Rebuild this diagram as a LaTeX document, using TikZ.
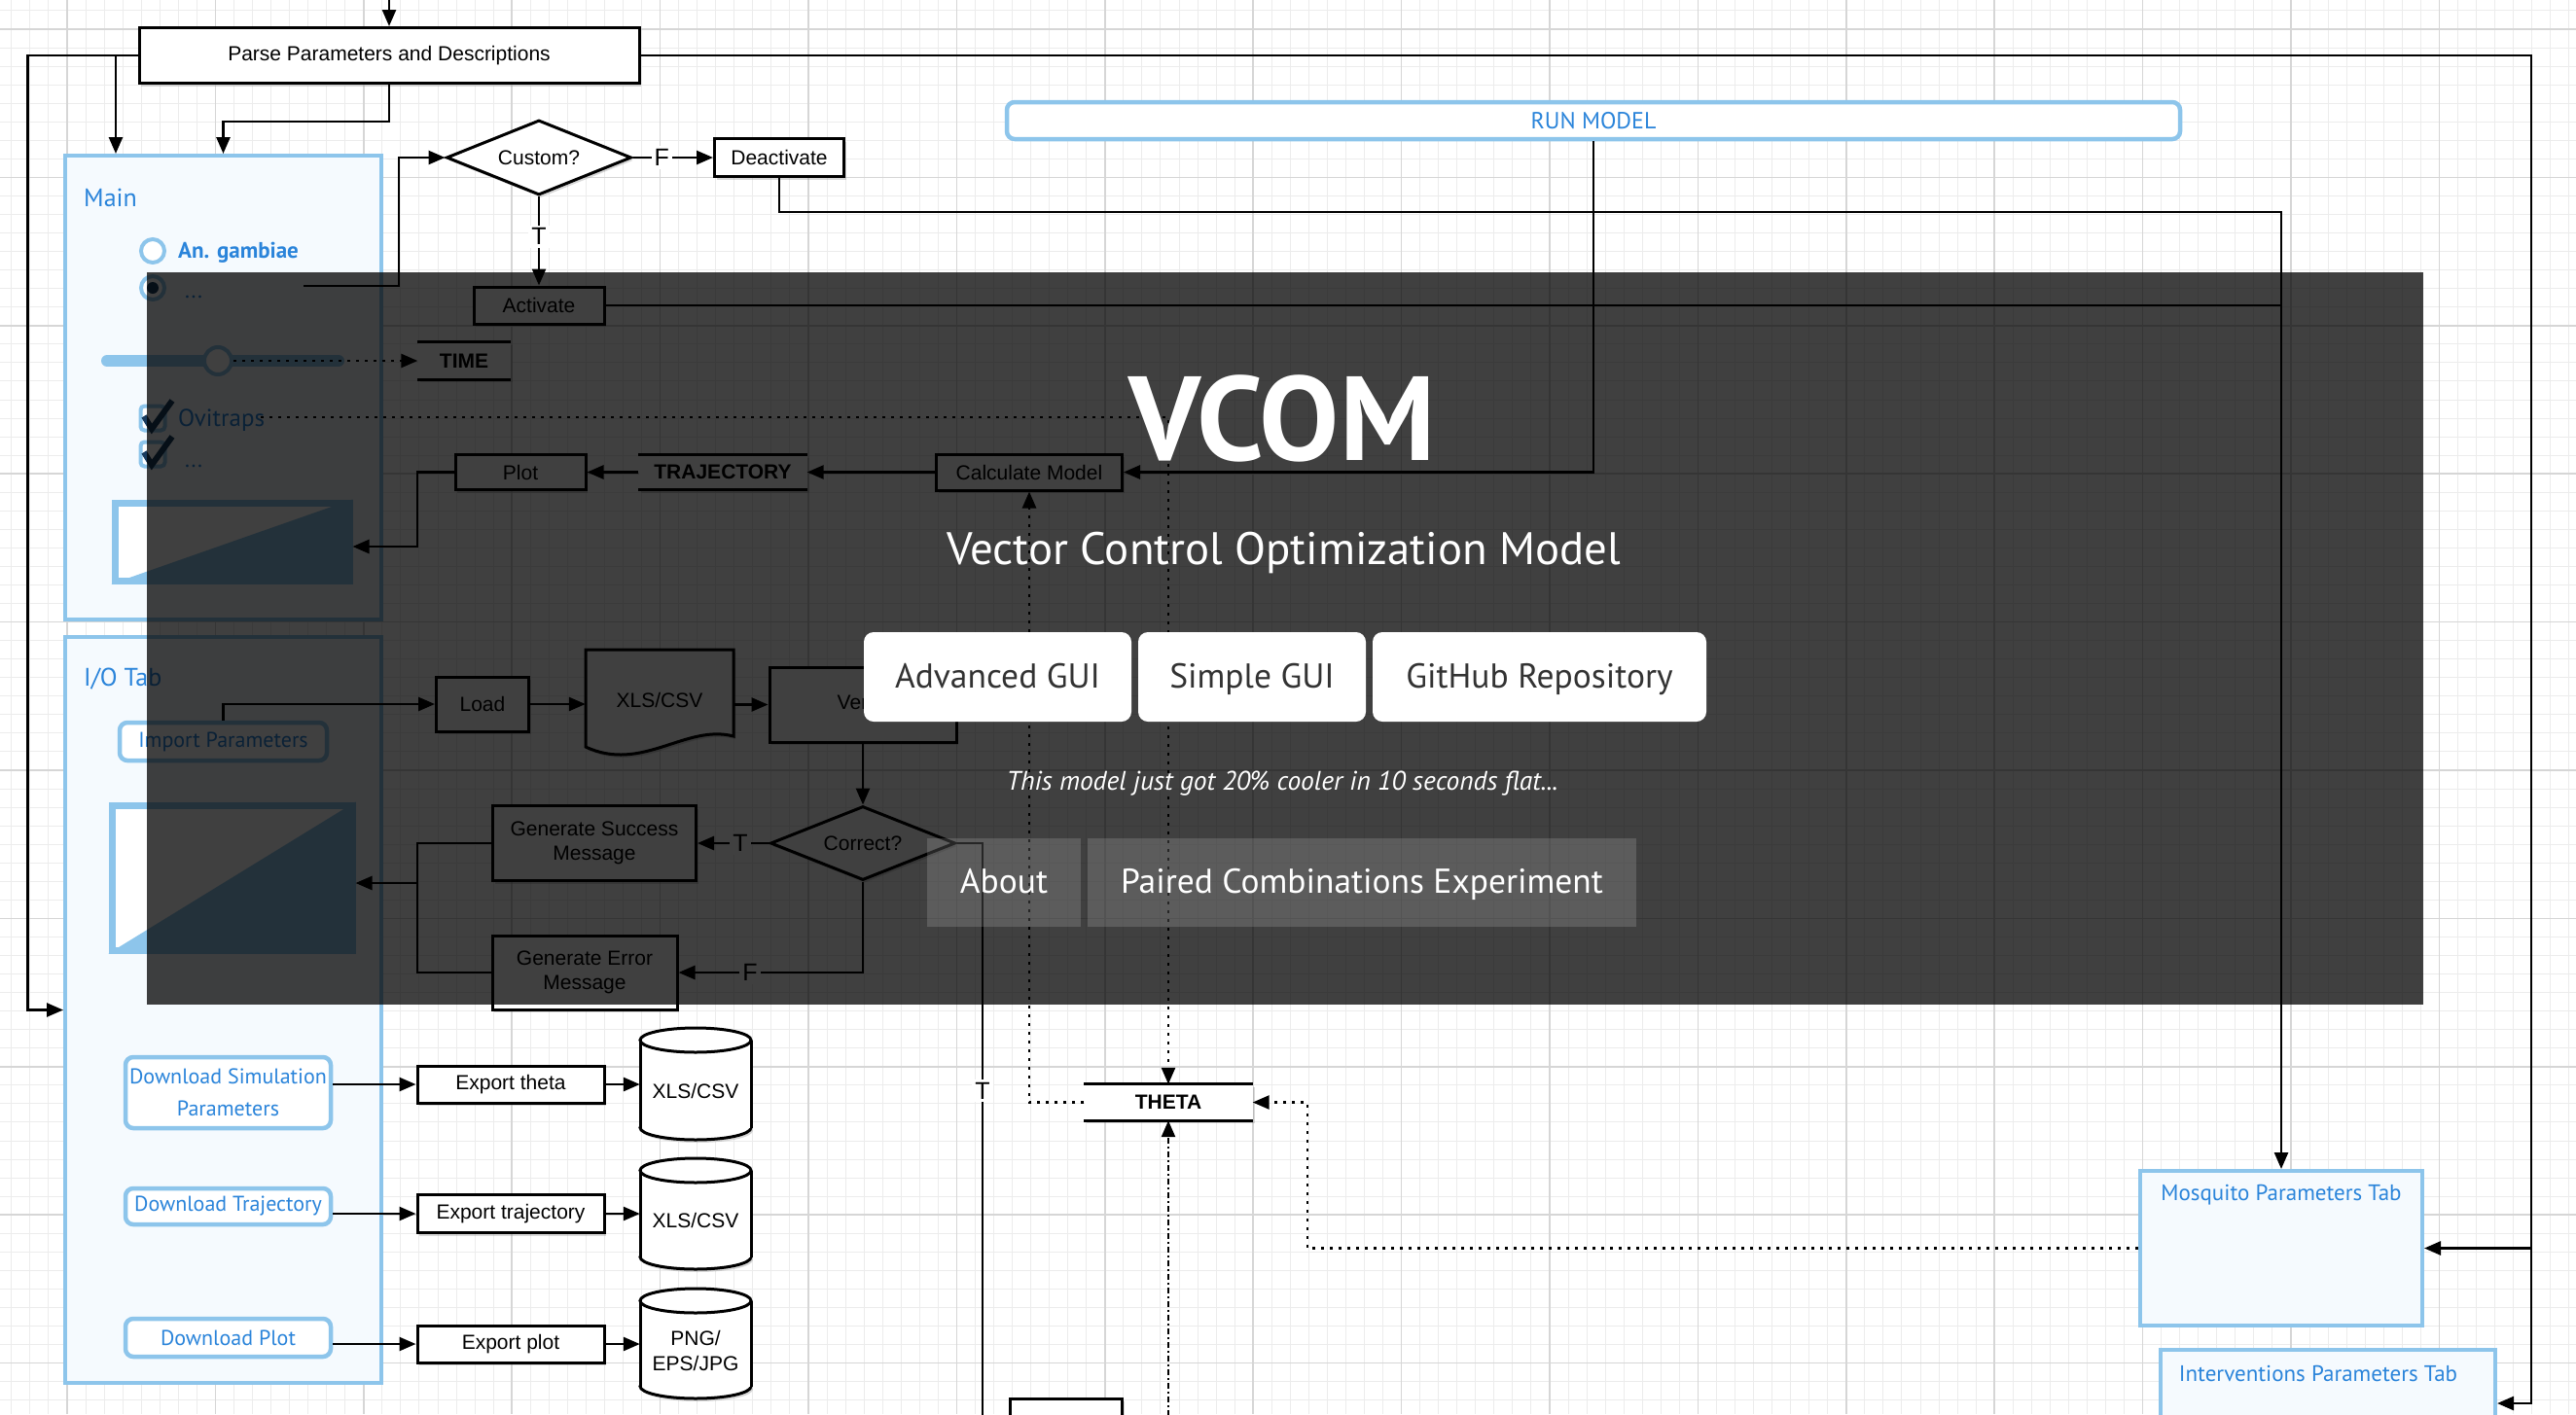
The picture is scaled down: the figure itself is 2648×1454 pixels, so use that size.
\documentclass[tikz,border=0pt]{standalone}
\usepackage{fontspec}
\setmainfont{Liberation Sans}
\newfontfamily\uifont{PT Sans}
\usetikzlibrary{positioning,shapes.geometric,arrows.meta,shadows}

\definecolor{gridmajor}{RGB}{214,214,214}
\definecolor{gridminor}{RGB}{236,236,236}
\definecolor{bluebord}{RGB}{141,197,235}
\definecolor{bluefill}{RGB}{245,250,254}
\definecolor{bluetext}{RGB}{42,132,218}
\definecolor{darkcheck}{RGB}{25,60,95}
\definecolor{btntext}{RGB}{51,51,51}

\newcommand\boxfont{\fontsize{21}{25}\selectfont}
\newcommand\tabfont{\uifont\fontsize{23}{27}\selectfont}

\tikzset{
  shade box/.style={drop shadow={shadow xshift=2pt,shadow yshift=-3pt,opacity=0.3}},
  box/.style={draw,fill=white,line width=3pt,inner sep=2pt,align=center,font=\boxfont,shade box},
  store/.style={fill=white,inner sep=2pt,font=\boxfont\bfseries,shade box},
  decision/.style={diamond,aspect=2.5,draw,fill=white,line width=3pt,inner sep=0pt,font=\boxfont,shade box},
  flow/.style={line width=2.6pt,-{Triangle[length=17pt,width=14pt]}},
  wire/.style={line width=2.6pt},
  dotflow/.style={flow,dash pattern=on 3pt off 6pt},
  dashflow/.style={flow,dash pattern=on 6pt off 3pt on 2pt off 3pt},
  lbl/.style={fill=white,inner sep=3pt,font=\fontsize{25}{29}\selectfont},
  panel/.style={draw=bluebord,fill=bluefill,line width=4pt,inner sep=0pt},
  uibtn/.style={draw=bluebord,fill=white,line width=4.5pt,rounded corners=8pt,
    text=bluetext,font=\uifont\fontsize{22}{33}\selectfont,align=center,inner sep=0pt},
  tabtitle/.style={text=bluetext,font=\tabfont,inner sep=0pt},
  gbtn/.style={fill=white,rounded corners=10pt,text=btntext,font=\uifont\fontsize{35.5}{40}\selectfont,
    text height=22pt,text depth=0pt,inner sep=0pt,minimum height=92pt},
  navbtn/.style={fill=white,fill opacity=0.15,text opacity=1,text=white,font=\uifont\fontsize{35.5}{40}\selectfont,
    text height=21pt,text depth=0pt,inner sep=0pt,minimum height=91pt}
}

\begin{document}
\begin{tikzpicture}[x=1pt,y=-1pt]
\useasboundingbox (0,0) rectangle (2648,1454);
\clip (0,0) rectangle (2648,1454);
\fill[white] (0,0) rectangle (2648,1454);

% grid
\foreach \gx in {11.85,30.9,...,2648} \draw[gridminor,line width=1pt] (\gx,0) -- (\gx,1454);
\foreach \gy in {10.95,30,...,1454} \draw[gridminor,line width=1pt] (0,\gy) -- (2648,\gy);
\foreach \gx in {69,221.4,...,2648} \draw[gridmajor,line width=1.5pt] (\gx,0) -- (\gx,1454);
\foreach \gy in {30,182.4,...,1454} \draw[gridmajor,line width=1.5pt] (0,\gy) -- (2648,\gy);

% tabs of the GUI
\node[panel,minimum width=325pt,minimum height=477pt] (mainp) at (229.5,398.5) {};
\node[panel,minimum width=325pt,minimum height=767pt] (iop) at (229.5,1038.5) {};
\node[panel,minimum width=290pt,minimum height=159pt] (mosq) at (2345,1283.5) {};
\node[panel,minimum width=344pt,minimum height=100pt] (interv) at (2393,1438) {};
\node[tabtitle,anchor=west,font=\uifont\fontsize{26}{30}\selectfont] (maintitle) at (86,203) {Main};
\node[tabtitle,anchor=west,font=\uifont\fontsize{26}{30}\selectfont] (iotitle) at (86,698) {I/O Tab};
\node[tabtitle] (mosqtitle) at (2345,1229) {Mosquito Parameters Tab};
\node[tabtitle] (intervtitle) at (2383,1412) {Interventions Parameters Tab};

% widgets of the main tab
\node[circle,draw=bluebord,line width=4pt,fill=white,minimum size=24pt,inner sep=0pt] (radio1) at (157,258) {};
\node[circle,draw=bluebord,line width=4pt,fill=white,minimum size=24pt,inner sep=0pt] (radio2) at (157,296) {};
\fill[darkcheck] (radio2) circle (6pt);
\node[tabtitle,anchor=west,font=\uifont\bfseries\fontsize{23}{27}\selectfont] (gambiae) at (183,260) {An. gambiae};
\node[tabtitle,anchor=base west] (radiomore) at (190,306) {...};
\draw[bluebord,line width=12pt,line cap=round] (110,371) -- (348,371);
\node[circle,draw=bluebord,line width=4pt,fill=white,minimum size=28pt,inner sep=0pt] (thumb) at (224,371) {};
\node[draw=bluebord,line width=4pt,fill=white,rounded corners=4pt,minimum size=25pt] (chk1) at (157,430) {};
\node[draw=bluebord,line width=4pt,fill=white,rounded corners=4pt,minimum size=25pt] (chk2) at (157,467) {};
\draw[darkcheck,line width=6pt] (148,428) -- (156,441) -- (177,412);
\draw[darkcheck,line width=6pt] (148,465) -- (156,478) -- (177,449);
\node[tabtitle,anchor=west,font=\uifont\fontsize{25}{29}\selectfont] (ovi) at (183,432) {Ovitraps};
\node[tabtitle,anchor=base west] (chkmore) at (190,480) {...};
\node[draw=bluebord,line width=7pt,fill=white,minimum width=241pt,minimum height=80pt] (plotimg1) at (238.5,557) {};
\fill[bluebord] (plotimg1.south west) -- (plotimg1.north east) -- (plotimg1.south east) -- cycle;

% widgets of the I/O tab
\node[uibtn,minimum width=213pt,minimum height=39pt] (importbtn) at (229.5,762.5) {Import Parameters};
\node[draw=bluebord,line width=7pt,fill=white,minimum width=247pt,minimum height=149pt] (plotimg2) at (238.5,902.5) {};
\fill[bluebord] (plotimg2.south west) -- (plotimg2.north east) -- (plotimg2.south east) -- cycle;
\node[uibtn,minimum width=211pt,minimum height=73pt] (dlsim) at (234.5,1123.5) {Download Simulation\\Parameters};
\node[uibtn,minimum width=211pt,minimum height=37pt] (dltraj) at (234.5,1240.5) {Download Trajectory};
\node[uibtn,minimum width=211pt,minimum height=39pt] (dlplot) at (234.5,1375.5) {Download Plot};
\node[uibtn,minimum width=1206pt,minimum height=38pt,font=\uifont\fontsize{24}{28}\selectfont] (runmodel) at (1638,124) {RUN MODEL};

% flow chart
\node[box,minimum width=514pt,minimum height=57pt] (parse) at (400,57) {Parse Parameters and Descriptions};
\node[decision,minimum width=190pt,minimum height=77pt] (custom) at (554,162) {Custom?};
\node[box,minimum width=133pt,minimum height=39pt] (deact) at (801,162) {Deactivate};
\node[box,minimum width=134pt,minimum height=38pt] (act) at (554,314) {Activate};
\node[store,minimum width=95pt,minimum height=38pt] (time) at (477,371) {TIME};
\node[box,minimum width=134pt,minimum height=36pt] (plot) at (535,485.5) {Plot};
\node[store,minimum width=173pt,minimum height=36pt] (traj) at (743,485.5) {TRAJECTORY};
\node[box,minimum width=191pt,minimum height=37pt] (calc) at (1058,485.5) {Calculate Model};
\node[box,minimum width=95pt,minimum height=56pt] (load) at (496,724) {Load};
\draw[line width=3pt,fill=white,shade box] (602,668) -- (754,668) -- (754,757)
  .. controls (705,744) and (660,795) .. (602,768) -- cycle;
\node[font=\boxfont,inner sep=0pt,minimum width=152pt] (doc) at (678,720) {XLS/CSV};
\node[box,minimum width=192pt,minimum height=77pt] (verify) at (887,724.5) {Verify};
\node[decision,minimum width=190pt,minimum height=76pt] (correct) at (887,867) {Correct?};
\node[box,minimum width=209pt,minimum height=77pt] (succ) at (611,867) {Generate Success\\Message};
\node[box,minimum width=190pt,minimum height=76pt] (err) at (601,1000) {Generate Error\\Message};
\node[store,minimum width=173pt,minimum height=37pt] (theta) at (1201,1133.5) {THETA};
\node[box,minimum width=115pt,minimum height=60pt] (nextbox) at (1096,1468) {};
\foreach \s in {time,traj,theta}
  \draw[line width=3pt] (\s.north west) -- (\s.north east) (\s.south west) -- (\s.south east);

% export branch
\node[box,minimum width=192pt,minimum height=38pt] (expt) at (525,1115) {Export theta};
\node[box,minimum width=192pt,minimum height=39pt] (exptraj) at (525,1248) {Export trajectory};
\node[box,minimum width=192pt,minimum height=38pt] (expplot) at (525,1382) {Export plot};
\foreach \yt/\yb in {1069.5/1159.5,1203.5/1292.5,1337.5/1425.5} {
  \draw[line width=3pt,fill=white,shade box] (715,\yb) ellipse [x radius=57pt,y radius=12.5pt];
  \fill[white] (658,\yt) rectangle (772,\yb);
  \draw[line width=3pt] (658,\yt) -- (658,\yb) (772,\yt) -- (772,\yb);
  \draw[line width=3pt,fill=white] (715,\yt) ellipse [x radius=57pt,y radius=12.5pt];
}
\node[font=\boxfont,inner sep=0pt,minimum width=114pt] (db1) at (715,1122) {XLS/CSV};
\node[font=\boxfont,inner sep=0pt,minimum width=114pt] (db2) at (715,1255) {XLS/CSV};
\node[font=\fontsize{21}{26}\selectfont,align=center,inner sep=0pt,minimum width=114pt] (db3) at (715,1389) {PNG/\\EPS/JPG};

% connectors
\coordinate (entry) at (400,-10);
\coordinate (brL) at (119,57);
\coordinate (radout) at (312,294);
\coordinate (radturn) at (410,294);
\coordinate (busY) at (0,218);
\coordinate (ovout) at (268,429);
\coordinate (plbar) at (429,562);
\coordinate (iobar) at (429,908);
\coordinate (tdown) at (1010,1470);
\coordinate (thetain) at (1201,1470);
\coordinate (mqturn) at (1344,1283.5);
\coordinate (rbus) at (2602,1443);

\draw[flow] (entry) -- (parse);
\draw[flow] (parse.west) -- ++(-113,0) |- (iop.west);
\draw[flow] (brL) -- (brL |- mainp.north);
\draw[flow] (parse.south) -- ++(0,38) -| (mainp.north);
\draw[flow] (parse.east) -| (rbus) -- (rbus -| interv.east);
\draw[flow] (rbus |- mosq.east) -- (mosq.east);
\draw[flow] (radout) -- (radturn) |- (custom.west);
\draw[flow] (custom) -- node[lbl,pos=0.36] {F} (deact);
\draw[flow] (custom) -- node[lbl,pos=0.45] {T} (act);
\draw[flow] (deact.south) -- (deact.south |- busY) -| (mosq.north);
\draw[wire] (act.east) -- (act.east -| mosq.north);
\draw[dotflow] (thumb.east) -- (time.west);
\draw[dotflow] (ovout) -| (theta.north);
\draw[flow] (runmodel.south) |- (calc.east);
\draw[flow] (calc) -- (traj);
\draw[flow] (traj) -- (plot);
\draw[flow] (plot.west) -| (plbar) -- (plbar -| plotimg1.east);
\draw[flow] (importbtn.north) |- (load.west);
\draw[flow] (load) -- (load -| doc.west);
\draw[flow] (verify -| doc.east) -- (verify);
\draw[flow] (verify) -- (correct);
\draw[flow] (correct) -- node[lbl,pos=0.4] {T} (succ);
\draw[flow] (correct.south) |- node[lbl,pos=0.806] {F} (err.east);
\draw[wire] (succ.west) -| (iobar) |- (err.west);
\draw[flow] (iobar) -- (iobar -| plotimg2.east);
\draw[wire] (correct.east) -| node[lbl,pos=0.711] {T} (tdown);
\draw[dotflow] (theta.west) -| (calc.south);
\draw[dotflow] (mosq.west) -- (mqturn) |- (theta.east);
\draw[dashflow] (thetain) -- (theta.south);
\draw[flow] (dlsim.east |- expt) -- (expt);
\draw[flow] (dltraj.east |- exptraj) -- (exptraj);
\draw[flow] (dlplot.east |- expplot) -- (expplot);
\draw[flow] (expt) -- (expt -| db1.west);
\draw[flow] (exptraj) -- (exptraj -| db2.west);
\draw[flow] (expplot) -- (expplot -| db3.west);

% landing banner over the chart
\node[fill=black,fill opacity=0.75,minimum width=2340pt,minimum height=753pt,inner sep=0pt] (banner) at (1321,656.5) {};
\node[anchor=base,text=white,inner sep=0pt,font=\uifont\bfseries\fontsize{123}{128}\selectfont] (vcom) at (1318,473) {VCOM};
\node[anchor=base,text=white,inner sep=0pt,font=\uifont\fontsize{46.8}{50}\selectfont] (subtitle) at (1320,580) {Vector Control Optimization Model};
\node[gbtn,minimum width=275pt] (advgui) at (1025.5,696) {Advanced GUI};
\node[gbtn,minimum width=234pt] (simplegui) at (1287,696) {Simple GUI};
\node[gbtn,minimum width=343pt] (github) at (1582.5,696) {GitHub Repository};
\node[anchor=base,text=white,inner sep=0pt,font=\uifont\itshape\fontsize{27.5}{32}\selectfont] (tagline) at (1318,812) {This model just got 20\% cooler in 10 seconds flat...};
\node[navbtn,minimum width=158pt] (about) at (1032,907.5) {About};
\node[navbtn,minimum width=564pt] (paired) at (1400,907.5) {Paired Combinations Experiment};
\end{tikzpicture}
\end{document}
